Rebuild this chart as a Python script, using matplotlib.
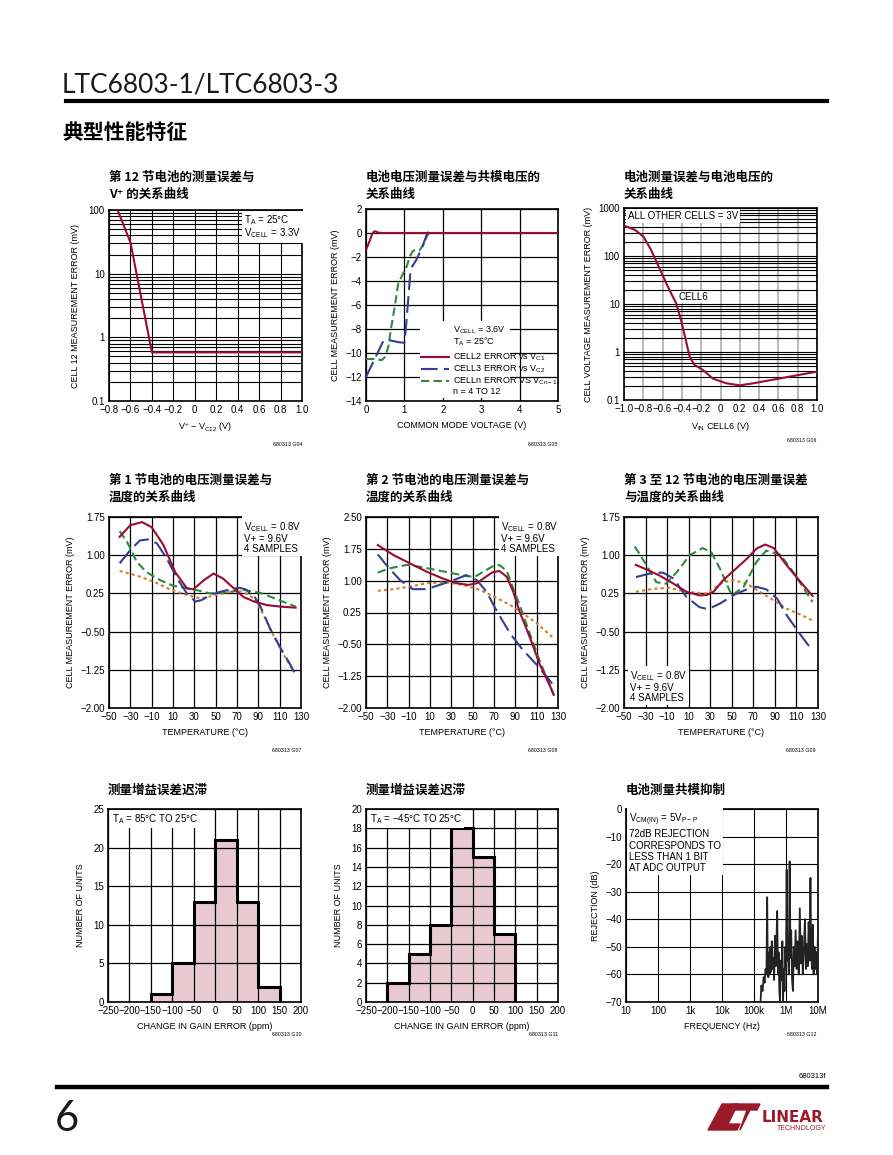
import numpy as np
import matplotlib.pyplot as plt
from matplotlib.lines import Line2D
from matplotlib.patches import Polygon
from matplotlib.ticker import LogLocator, NullFormatter

W, H = 893, 1155
plt.rcParams['font.family'] = ['Liberation Sans Narrow', 'Liberation Sans', 'DejaVu Sans']
plt.rcParams['mathtext.default'] = 'regular'
CJK = ['Noto Sans CJK SC', 'DejaVu Sans']

RED = '#9a0b36'
BLUE = '#343f92'
GREEN = '#2f8a3b'
ORANGE = '#cf7f2a'
PINK = '#e8c9d2'

# ---- datos ----
# G04: error celda 12 vs V+ - VC12
g04_x = [-0.72, -0.6, -0.4, 1.0]
g04_y = [100, 31, 0.58, 0.58]

# G05: error vs voltaje de modo comun
g05_c2_x = [0, 0.08, 0.15, 0.2, 0.25, 0.3, 0.4, 5.0]
g05_c2_y = [-1.4, -0.8, -0.15, 0.1, 0.15, 0.05, 0, 0]
g05_c3_x = [0, 0.15, 0.3, 0.45, 0.55, 0.7, 0.85, 1.0, 1.05, 1.1, 1.15, 1.2, 1.3, 1.45, 1.58, 1.66, 1.75]
g05_c3_y = [-12, -11.0, -10.0, -9.0, -8.9, -9.0, -9.1, -9.15, -7.5, -5.5, -3.5, -2.8, -2.3, -1.3, -0.15, 0.2, 0.1]
g05_cn_x = [0, 0.2, 0.41, 0.5, 0.58, 0.65, 0.75, 0.84, 0.97, 1.06, 1.14, 1.22, 1.3, 1.39, 1.49, 1.58, 1.66]
g05_cn_y = [-10.5, -10.5, -10.6, -10.3, -9.5, -8.0, -6.1, -4.2, -3.35, -2.8, -1.95, -1.5, -1.4, -1.45, -1.0, -0.3, 0.1]

# G06: error vs voltaje de celda 6
g06_x = [-1.0, -0.89, -0.8, -0.72, -0.61, -0.53, -0.46, -0.41, -0.36, -0.32, -0.27, -0.18, -0.08, 0.06, 0.2, 0.34, 0.61, 1.0]
g06_y = [428, 353, 256, 135, 44, 19.8, 10.4, 4.7, 1.79, 0.8, 0.54, 0.42, 0.28, 0.223, 0.202, 0.223, 0.28, 0.39]

# G07: celda 1 vs temperatura (4 muestras)
g07_red_t = [-40, -30, -19, -10, 1, 12, 23, 29, 39, 48, 57, 67, 76, 86, 98, 111, 125]
g07_red_v = [1.36, 1.59, 1.65, 1.55, 1.2, 0.67, 0.35, 0.33, 0.51, 0.64, 0.54, 0.35, 0.18, 0.09, 0.02, -0.01, -0.03]
g07_blue_t = [-40, -30, -21, -13, -5, 4, 14, 23, 31, 37, 45, 54, 64, 72, 78, 86, 92, 101, 111, 120, 125]
g07_blue_v = [0.84, 1.1, 1.29, 1.31, 1.23, 0.94, 0.54, 0.25, 0.09, 0.12, 0.22, 0.28, 0.33, 0.36, 0.33, 0.2, -0.01, -0.44, -0.83, -1.15, -1.35]
g07_green_t = [-40, -33, -24, -15, -2, 10, 29, 45, 61, 76, 92, 108, 125]
g07_green_v = [1.47, 1.26, 0.87, 0.67, 0.51, 0.4, 0.33, 0.25, 0.27, 0.32, 0.26, 0.13, -0.01]
g07_orange_t = [-40, -24, -8, 7, 23, 36, 51, 67, 76, 86, 95, 104, 114, 123]
g07_orange_v = [0.69, 0.6, 0.48, 0.33, 0.22, 0.15, 0.22, 0.3, 0.28, 0.15, -0.17, -0.57, -0.96, -1.28]

# G08: celda 2 vs temperatura
g08_red_t = [-39, -24, -9, 7, 22, 35, 46, 54, 60, 68, 75, 82, 88, 94, 104, 113, 122, 126]
g08_red_v = [1.84, 1.6, 1.41, 1.21, 1.05, 0.94, 0.9, 0.94, 1.05, 1.19, 1.23, 1.09, 0.74, 0.27, -0.36, -0.98, -1.45, -1.69]
g08_blue_t = [-39, -31, -18, -6, 7, 19, 32, 44, 54, 63, 72, 85, 97, 110, 126]
g08_blue_v = [1.62, 1.37, 1.01, 0.8, 0.8, 0.9, 1.01, 1.13, 1.01, 0.74, 0.31, -0.24, -0.63, -0.98, -1.47]
g08_green_t = [-39, -28, -12, 0, 16, 32, 44, 52, 60, 69, 75, 82, 88, 94, 104, 113, 126]
g08_green_v = [1.19, 1.29, 1.37, 1.33, 1.25, 1.17, 1.11, 1.09, 1.21, 1.34, 1.37, 1.23, 0.82, 0.43, -0.28, -0.9, -1.69]
g08_orange_t = [-39, -24, -9, 7, 25, 41, 57, 72, 85, 97, 110, 126]
g08_orange_v = [0.76, 0.8, 0.86, 0.94, 0.96, 0.9, 0.78, 0.6, 0.43, 0.23, 0.0, -0.36]

# G09: celdas 3 a 12 vs temperatura
g09_red_t = [-39, -29, -17, -4, 8, 20, 27, 33, 42, 52, 64, 73, 81, 89, 101, 114, 125]
g09_red_v = [0.81, 0.72, 0.6, 0.44, 0.28, 0.21, 0.22, 0.28, 0.51, 0.7, 0.93, 1.13, 1.21, 1.14, 0.8, 0.47, 0.2]
g09_blue_t = [-39, -26, -14, -4, 8, 20, 28, 39, 52, 64, 73, 82, 92, 101, 114, 125]
g09_blue_v = [0.57, 0.64, 0.66, 0.54, 0.18, -0.02, -0.06, 0.05, 0.22, 0.33, 0.38, 0.33, 0.15, -0.18, -0.57, -0.88]
g09_green_t = [-40, -29, -20, -11, -1, 11, 23, 31, 39, 50, 61, 73, 82, 95, 107, 125]
g09_green_v = [1.17, 0.8, 0.47, 0.44, 0.67, 1.0, 1.14, 1.06, 0.74, 0.21, 0.38, 0.87, 1.09, 1.01, 0.67, 0.08]
g09_orange_t = [-39, -23, -8, 8, 27, 42, 52, 64, 76, 89, 101, 114, 125]
g09_orange_v = [0.28, 0.34, 0.36, 0.28, 0.25, 0.47, 0.51, 0.44, 0.28, 0.11, -0.05, -0.17, -0.28]

# G10 / G11: histogramas de histeresis del error de ganancia
g10_edges = [-150, -100, -50, 0, 50, 100, 150]
g10_counts = [1, 5, 13, 21, 13, 2]
g11_edges = [-200, -150, -100, -50, 0, 50, 100]
g11_counts = [2, 5, 8, 18, 15, 7]

# G12: rechazo de modo comun
g12_freq = [160e3, 170e3, 185e3, 200e3, 215e3, 230e3, 245e3, 258e3, 268e3, 280e3,
            295e3, 310e3, 325e3, 340e3, 360e3, 380e3, 400e3, 425e3, 450e3, 475e3,
            500e3, 530e3, 560e3, 590e3, 620e3, 650e3, 690e3, 730e3, 770e3, 810e3,
            850e3, 900e3, 950e3, 1.0e6, 1.05e6, 1.1e6, 1.15e6, 1.22e6, 1.3e6, 1.38e6,
            1.45e6, 1.55e6, 1.65e6, 1.75e6, 1.87e6, 2.0e6, 2.15e6, 2.3e6, 2.5e6, 2.7e6,
            2.9e6, 3.1e6, 3.35e6, 3.6e6, 3.9e6, 4.2e6, 4.5e6, 4.8e6, 5.1e6, 5.5e6,
            5.8e6, 6.1e6, 6.5e6, 6.9e6, 7.3e6, 7.8e6, 8.3e6, 8.9e6, 9.4e6, 10e6]
g12_db = [-70, -64, -66, -61, -63, -58, -60, -32, -56, -61,
          -52, -60, -50, -59, -48, -58, -54, -62, -46, -57,
          -50, -37, -60, -52, -66, -70, -55, -62, -48, -70,
          -58, -66, -50, -58, -22, -55, -47, -60, -19, -54,
          -44, -62, -66, -50, -57, -44, -58, -48, -60, -36,
          -56, -46, -60, -52, -40, -58, -49, -57, -41, -55,
          -25, -52, -58, -42, -60, -50, -58, -52, -60, -44]

temp_ticks = [-50, -30, -10, 10, 30, 50, 70, 90, 110, 130]

fig = plt.figure(figsize=(W / 100, H / 100), dpi=100)


def panel(l, t, r, b):
    ax = fig.add_axes([l / W, 1 - b / H, (r - l) / W, (b - t) / H])
    ax.tick_params(length=0, labelsize=7, pad=3)
    for s in ax.spines.values():
        s.set_linewidth(1.2)
    return ax


def title(x, y, txt):
    fig.text(x / W, 1 - y / H, txt, family=CJK, weight='bold', fontsize=9,
             va='center', ha='left', linespacing=1.35)


def code(x, y, txt):
    fig.text(x / W, 1 - y / H, txt, fontsize=3.8, ha='right', va='center')


def box(ax, x, y, txt, va='top', ls=1.0):
    ax.text(x, y, txt, transform=ax.transAxes, fontsize=7, va=va, ha='left',
            linespacing=ls, zorder=5,
            bbox=dict(facecolor='white', edgecolor='none', pad=1.5))


def temp_axes(ax, ylim, yticks, ylabels):
    ax.set_xlim(-50, 130)
    ax.set_xticks(temp_ticks, labels=[f'{v:d}'.replace('-', '\u2212') for v in temp_ticks])
    ax.set_ylim(*ylim)
    ax.set_yticks(yticks, labels=ylabels)
    ax.grid(True, color='black', lw=0.9)
    ax.set_axisbelow(True)
    ax.set_xlabel('TEMPERATURE (°C)', fontsize=6.5, labelpad=4)
    ax.set_ylabel('CELL MEASUREMENT ERROR (mV)', fontsize=6.5, labelpad=4)


def four(ax, r, b, g, o):
    ax.plot(*o, color=ORANGE, lw=1.5, dashes=(1.5, 1.5), zorder=3)
    ax.plot(*g, color=GREEN, lw=1.5, dashes=(4, 2), zorder=3)
    ax.plot(*b, color=BLUE, lw=1.5, dashes=(8, 3), zorder=3)
    ax.plot(*r, color=RED, lw=1.5, zorder=3)


# ---- cabecera ----
fig.text(62 / W, 1 - 93 / H, 'LTC6803-1/LTC6803-3', family=['Lato', 'DejaVu Sans'],
         weight='normal', fontsize=19, va='baseline', color='#1a1a1a')
fig.add_artist(Line2D([66 / W, 827 / W], [1 - 101 / H] * 2, lw=3, color='black'))
fig.text(62 / W, 1 - 132 / H, '典型性能特征', family=CJK, weight='heavy', fontsize=15, va='center')

# ---- G04 ----
ax = panel(109, 210, 302, 401)
title(109, 186, '第 12 节电池的测量误差与\nV⁺ 的关系曲线')
ax.set_yscale('log')
ax.plot(g04_x, g04_y, color=RED, lw=1.5, zorder=3)
ax.set_xlim(-0.8, 1.0)
ax.set_ylim(0.1, 100)
xt = [-0.8, -0.6, -0.4, -0.2, 0, 0.2, 0.4, 0.6, 0.8, 1.0]
ax.set_xticks(xt, labels=['0' if v == 0 else f'{v:.1f}'.replace('-', '\u2212') for v in xt])
ax.set_yticks([0.1, 1, 10, 100], labels=['0.1', '1', '10', '100'])
ax.yaxis.set_minor_locator(LogLocator(subs=range(2, 10)))
ax.yaxis.set_minor_formatter(NullFormatter())
ax.tick_params(which='minor', length=0)
ax.grid(True, which='both', color='black', lw=0.8)
ax.set_axisbelow(True)
ax.set_xlabel('V$^{+}$ \u2212 V$_{C12}$ (V)', fontsize=6.5, labelpad=4)
ax.set_ylabel('CELL 12 MEASUREMENT ERROR (mV)', fontsize=6.5, labelpad=6)
box(ax, 0.7, 0.985, 'T$_{A}$ = 25°C\nV$_{CELL}$ = 3.3V')
code(302, 445, '680313 G04')

# ---- G05 ----
ax = panel(366, 209, 558, 401)
title(366, 186, '电池电压测量误差与共模电压的\n关系曲线')
ax.plot(g05_cn_x, g05_cn_y, color=GREEN, lw=1.5, dashes=(4, 2), zorder=3)
ax.plot(g05_c3_x, g05_c3_y, color=BLUE, lw=1.5, dashes=(8, 3), zorder=3)
ax.plot(g05_c2_x, g05_c2_y, color=RED, lw=1.5, zorder=3)
ax.set_xlim(0, 5)
ax.set_ylim(-14, 2)
ax.set_xticks(range(0, 6))
ax.set_yticks(range(-14, 3, 2))
ax.grid(True, color='black', lw=0.9)
ax.set_axisbelow(True)
ax.set_xlabel('COMMON MODE VOLTAGE (V)', fontsize=6.5, labelpad=4)
ax.set_ylabel('CELL MEASUREMENT ERROR (mV)', fontsize=6.5, labelpad=4)
ax.add_patch(plt.Rectangle((0.28, 0.015), 0.47, 0.40, transform=ax.transAxes,
                           facecolor='white', edgecolor='none', zorder=4))
ax.text(0.451, 0.37, 'V$_{CELL}$ = 3.6V', transform=ax.transAxes, fontsize=6.5, va='center', zorder=5)
ax.text(0.451, 0.31, 'T$_{A}$ = 25°C', transform=ax.transAxes, fontsize=6.5, va='center', zorder=5)
leg = [('CELL2 ERROR vs V$_{C1}$', RED, None, 0.228),
       ('CELL3 ERROR vs V$_{C2}$', BLUE, (8, 3), 0.167),
       ('CELLn ERROR VS V$_{Cn\u22121}$,', GREEN, (4, 2), 0.106)]
for lab, col, ds, yy in leg:
    ln = Line2D([0.286, 0.43], [yy, yy], transform=ax.transAxes, color=col, lw=1.5, zorder=5)
    if ds:
        ln.set_dashes(ds)
    ax.add_line(ln)
    ax.text(0.451, yy, lab, transform=ax.transAxes, fontsize=6.5, va='center', zorder=5)
ax.text(0.451, 0.048, 'n = 4 TO 12', transform=ax.transAxes, fontsize=6.5, va='center', zorder=5)
code(558, 445, '680313 G05')

# ---- G06 ----
ax = panel(624, 208, 817, 400)
title(624, 186, '电池测量误差与电池电压的\n关系曲线')
ax.set_yscale('log')
ax.plot(g06_x, g06_y, color=RED, lw=1.5, zorder=3)
ax.set_xlim(-1.0, 1.0)
ax.set_ylim(0.1, 1000)
xt = [-1.0, -0.8, -0.6, -0.4, -0.2, 0, 0.2, 0.4, 0.6, 0.8, 1.0]
ax.set_xticks(xt, labels=['0' if v == 0 else f'{v:.1f}'.replace('-', '\u2212') for v in xt])
ax.set_yticks([0.1, 1, 10, 100, 1000], labels=['0.1', '1', '10', '100', '1000'])
ax.yaxis.set_minor_locator(LogLocator(subs=range(2, 10)))
ax.yaxis.set_minor_formatter(NullFormatter())
ax.tick_params(which='minor', length=0)
ax.grid(True, axis='y', which='both', color='black', lw=0.8)
ax.grid(True, axis='x', color='#b5b5b5', lw=1.3)
ax.set_axisbelow(True)
ax.set_xlabel('V$_{IN}$ CELL6 (V)', fontsize=6.5, labelpad=4)
ax.set_ylabel('CELL VOLTAGE MEASUREMENT ERROR (mV)', fontsize=6.5, labelpad=4)
box(ax, 0.02, 0.985, 'ALL OTHER CELLS = 3V')
ax.text(0.28, 0.536, 'CELL6', transform=ax.transAxes, fontsize=7, va='center',
        bbox=dict(facecolor='white', edgecolor='none', pad=0.5), zorder=4)
code(816, 441, '680313 G06')

# ---- G07 ----
ax = panel(109, 517, 301, 708)
title(109, 489, '第 1 节电池的电压测量误差与\n温度的关系曲线')
temp_axes(ax, (-2.0, 1.75), [-2.0, -1.25, -0.5, 0.25, 1.0, 1.75],
          ['\u22122.00', '\u22121.25', '\u22120.50', '0.25', '1.00', '1.75'])
four(ax, (g07_red_t, g07_red_v), (g07_blue_t, g07_blue_v),
     (g07_green_t, g07_green_v), (g07_orange_t, g07_orange_v))
box(ax, 0.705, 0.985, 'V$_{CELL}$ = 0.8V\nV+ = 9.6V\n4 SAMPLES')
code(301, 751, '680313 G07')

# ---- G08 ----
ax = panel(366, 517, 558, 708)
title(366, 489, '第 2 节电池的电压测量误差与\n温度的关系曲线')
temp_axes(ax, (-2.0, 2.5), [-2.0, -1.25, -0.5, 0.25, 1.0, 1.75, 2.5],
          ['\u22122.00', '\u22121.25', '\u22120.50', '0.25', '1.00', '1.75', '2.50'])
four(ax, (g08_red_t, g08_red_v), (g08_blue_t, g08_blue_v),
     (g08_green_t, g08_green_v), (g08_orange_t, g08_orange_v))
box(ax, 0.705, 0.985, 'V$_{CELL}$ = 0.8V\nV+ = 9.6V\n4 SAMPLES')
code(558, 751, '680313 G08')

# ---- G09 ----
ax = panel(624, 517, 818, 708)
title(624, 489, '第 3 至 12 节电池的电压测量误差\n与温度的关系曲线')
temp_axes(ax, (-2.0, 1.75), [-2.0, -1.25, -0.5, 0.25, 1.0, 1.75],
          ['\u22122.00', '\u22121.25', '\u22120.50', '0.25', '1.00', '1.75'])
four(ax, (g09_red_t, g09_red_v), (g09_blue_t, g09_blue_v),
     (g09_green_t, g09_green_v), (g09_orange_t, g09_orange_v))
box(ax, 0.03, 0.025, 'V$_{CELL}$ = 0.8V\nV+ = 9.6V\n4 SAMPLES', va='bottom')
code(816, 751, '680313 G09')


# ---- G10 / G11 ----
def hist(ax, edges, counts, ymax, ystep, label):
    ax.stairs(counts, edges, fill=True, color=PINK, zorder=1)
    ax.stairs(counts, edges, color='black', lw=2.2, zorder=3)
    ax.set_xlim(-250, 200)
    ax.set_ylim(0, ymax)
    xt = list(range(-250, 201, 50))
    ax.set_xticks(xt, labels=[str(v).replace('-', '\u2212') for v in xt])
    ax.set_yticks(range(0, ymax + 1, ystep))
    ax.grid(True, color='black', lw=0.9)
    ax.set_axisbelow(False)
    ax.set_xlabel('CHANGE IN GAIN ERROR (ppm)', fontsize=6.5, labelpad=4)
    ax.set_ylabel('NUMBER OF UNITS', fontsize=6.5, labelpad=6)
    box(ax, 0.02, 0.985, label)


ax = panel(108, 809, 301, 1002)
title(108, 790, '测量增益误差迟滞')
hist(ax, g10_edges, g10_counts, 25, 5, 'T$_{A}$ = 85°C TO 25°C')
code(301, 1035, '680313 G10')

ax = panel(366, 809, 558, 1002)
title(366, 790, '测量增益误差迟滞')
hist(ax, g11_edges, g11_counts, 20, 2, 'T$_{A}$ = \u221245°C TO 25°C')
code(558, 1035, '680313 G11')

# ---- G12 ----
ax = panel(626, 809, 818, 1002)
title(626, 790, '电池测量共模抑制')
ax.set_xscale('log')
ax.plot(g12_freq, g12_db, color='#222222', lw=1.3, zorder=3)
ax.set_xlim(10, 10e6)
ax.set_ylim(-70, 0)
ax.set_xticks([10, 100, 1e3, 1e4, 1e5, 1e6, 1e7], labels=['10', '100', '1k', '10k', '100k', '1M', '10M'])
ax.xaxis.set_minor_locator(LogLocator(subs=range(2, 10)))
ax.xaxis.set_minor_formatter(NullFormatter())
ax.tick_params(which='minor', length=0)
ax.set_yticks(range(-70, 1, 10), labels=[str(v).replace('-', '\u2212') for v in range(-70, 1, 10)])
ax.grid(True, which='both', color='black', lw=0.8)
ax.set_axisbelow(True)
ax.set_xlabel('FREQUENCY (Hz)', fontsize=6.5, labelpad=4)
ax.set_ylabel('REJECTION (dB)', fontsize=6.5, labelpad=4)
box(ax, 0.016, 0.985, 'V$_{CM(IN)}$ = 5V$_{P-P}$\n72dB REJECTION\nCORRESPONDS TO\nLESS THAN 1 BIT\nAT ADC OUTPUT',
    ls=1.15)
code(816, 1035, '680313 G12')

# ---- pie de pagina ----
fig.text(826 / W, 1 - 1076 / H, '680313f', fontsize=5.5, ha='right', va='center')
fig.add_artist(Line2D([57 / W, 827 / W], [1 - 1087 / H] * 2, lw=3.2, color='black'))
fig.text(55 / W, 1 - 1131 / H, '6', family=['Lato', 'DejaVu Sans'], weight='normal',
         fontsize=30, va='baseline', color='#1a1a1a')
LOGO = '#9a1a2a'
fig.add_artist(Polygon([[708 / W, 1 - 1130 / H], [722 / W, 1 - 1104 / H], [738 / W, 1 - 1104 / H],
                        [728 / W, 1 - 1124 / H], [740 / W, 1 - 1124 / H], [737 / W, 1 - 1130 / H]],
                       closed=True, color=LOGO))
fig.add_artist(Polygon([[733 / W, 1 - 1104 / H], [760 / W, 1 - 1104 / H], [757 / W, 1 - 1110 / H],
                        [750 / W, 1 - 1110 / H], [740 / W, 1 - 1130 / H], [742 / W, 1 - 1124 / H],
                        [747 / W, 1 - 1110 / H], [730 / W, 1 - 1110 / H]],
                       closed=True, color=LOGO))
fig.text(762 / W, 1 - 1122 / H, 'LINEAR', color=LOGO, fontsize=11, weight='bold', va='baseline',
         family=['Liberation Sans Narrow', 'DejaVu Sans'])
fig.text(826 / W, 1 - 1130 / H, 'TECHNOLOGY', color=LOGO, fontsize=5, ha='right', va='baseline')

fig.savefig('out.png', dpi=100)
